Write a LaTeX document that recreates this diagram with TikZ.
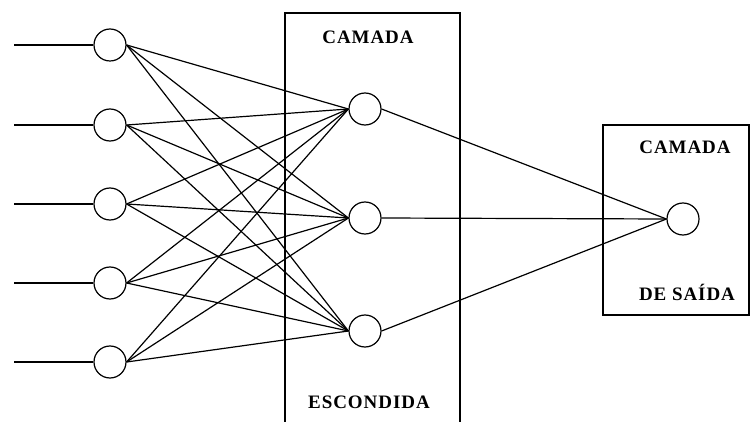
\documentclass[tikz,border=0pt]{standalone}
\usepackage{fontspec}
\setmainfont{Liberation Serif}
\newfontfamily\labfont[LetterSpace=5]{Liberation Serif}
\begin{document}
\begin{tikzpicture}[x=1pt,y=-1pt,
  neuron/.style={circle,draw,line width=1.2pt,minimum size=32pt,inner sep=0pt},
  conn/.style={line width=1.2pt},
  layerbox/.style={line width=1.6pt},
  lab/.style={font=\labfont\bfseries\fontsize{19}{19}\selectfont,inner sep=0pt}]
\useasboundingbox (0,0) rectangle (750,422);
% hidden box (open at bottom edge)
\draw[layerbox] (285,423) -- (285,13) -- (460,13) -- (460,423);
% output box
\draw[layerbox] (603,125) rectangle (749,315);
% inputs
\foreach \i/\y in {1/45,2/125,3/204,4/283,5/362}{
  \node[neuron] (in\i) at (110,\y) {};
  \coordinate (src\i) at (14,\y);
  \draw[conn] (src\i) -- (in\i.west);
}
% hidden
\node[neuron] (h1) at (365,109) {};
\node[neuron] (h2) at (365,218) {};
\node[neuron] (h3) at (365,331) {};
% output
\node[neuron] (out) at (683,219) {};
\foreach \i in {1,...,5}{
  \foreach \j in {1,2,3}{
    \draw[conn] (in\i.east) -- (h\j.west);
  }
}
\foreach \j in {1,2,3}{
  \draw[conn] (h\j.east) -- (out.west);
}
% labels
\node[lab] (t1) at (368,37) {CAMADA};
\node[lab] (t2) at (369,402) {ESCONDIDA};
\node[lab] (t3) at (685,147) {CAMADA};
\node[lab] (t4) at (687,292) {DE SAÍDA};
\end{tikzpicture}
\end{document}
